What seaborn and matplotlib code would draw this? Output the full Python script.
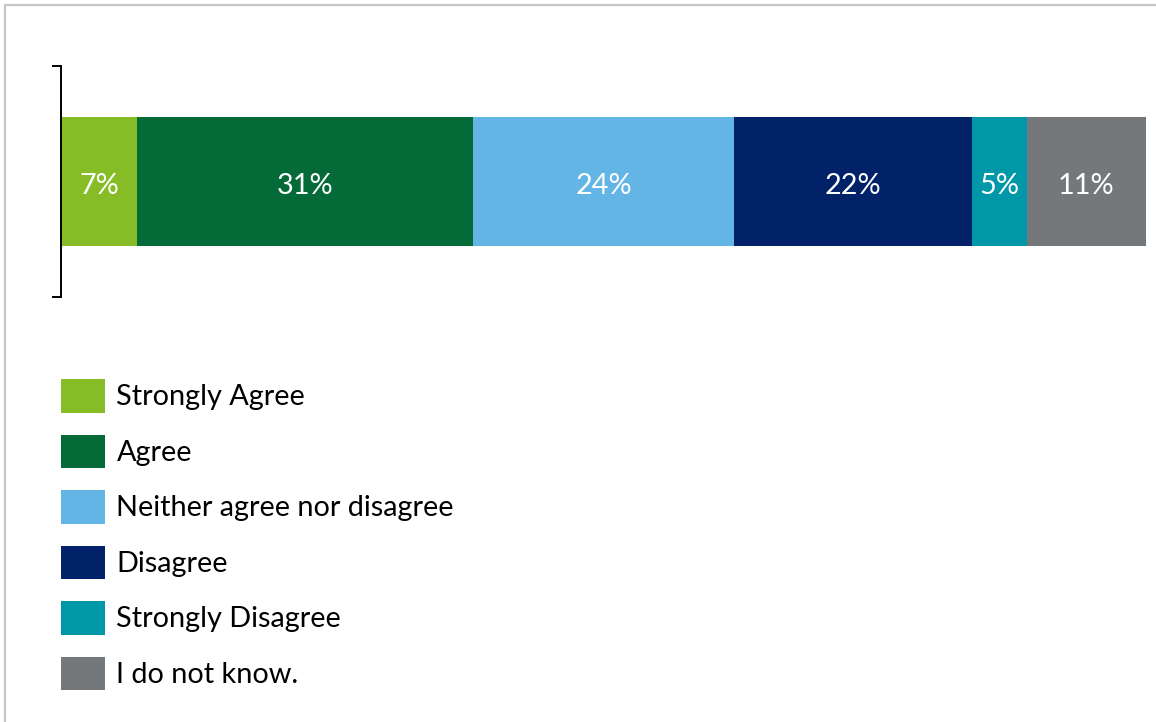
import matplotlib
matplotlib.use("Agg")
import matplotlib.pyplot as plt
import matplotlib.patches as mpatches
import seaborn as sns
import numpy as np

# survey answer shares (%)
categories = ["Strongly Agree", "Agree", "Neither agree nor disagree",
              "Disagree", "Strongly Disagree", "I do not know."]
values = [7, 31, 24, 22, 5, 11]
colors = ["#86bc25", "#046a38", "#62b5e5", "#012169", "#0097a9", "#75787b"]

sns.set_theme(style="white")
plt.rcParams["font.family"] = ["Lato", "DejaVu Sans"]

fig = plt.figure(figsize=(11.56, 7.22), dpi=100)
ax = fig.add_axes([61 / 1156, 1 - 297 / 722, (1146 - 61) / 1156, 231 / 722])

cum = np.cumsum(values)
row = [""]
# draw from the longest cumulative bar down so segments stack
for i in reversed(range(len(values))):
    sns.barplot(x=[cum[i]], y=row, color=colors[i], width=0.56,
                saturation=1, orient="h", linewidth=0, edgecolor="none", ax=ax)

for i, v in enumerate(values):
    ax.text(cum[i] - v / 2, 0.02, f"{v}%", color="white", fontsize=20.8,
            ha="center", va="center")

ax.set_xlim(0, 100)
ax.set_ylim(0.5, -0.5)
ax.set_xticks([])
ax.set_yticks([-0.5, 0.5])
ax.set_yticklabels([])
ax.tick_params(axis="y", left=True, length=6.5, width=1.4, color="black")
for s in ["top", "right", "bottom"]:
    ax.spines[s].set_visible(False)
ax.spines["left"].set_color("black")
ax.spines["left"].set_linewidth(1.4)
ax.set_xlabel("")
ax.set_ylabel("")

handles = [mpatches.Patch(facecolor=c, edgecolor="none", label=l)
           for c, l in zip(colors, categories)]
leg = fig.legend(handles=handles, loc="upper left",
                 bbox_to_anchor=(61 / 1156, 1 - 379 / 722),
                 frameon=False, fontsize=20.8, borderpad=0, borderaxespad=0,
                 handlelength=1.54, handleheight=1.41, handletextpad=0.38,
                 labelspacing=0.76)
for t in leg.get_texts():
    t.set_color("black")

# thin grey frame around the chart area
fig.patches.append(mpatches.Rectangle((5 / 1156, -0.1), 1.2, 1 - 5 / 722 + 0.1,
                                      transform=fig.transFigure, fill=False,
                                      edgecolor="#c6c6c6", linewidth=1.6))

fig.savefig("out.png", dpi=100)
